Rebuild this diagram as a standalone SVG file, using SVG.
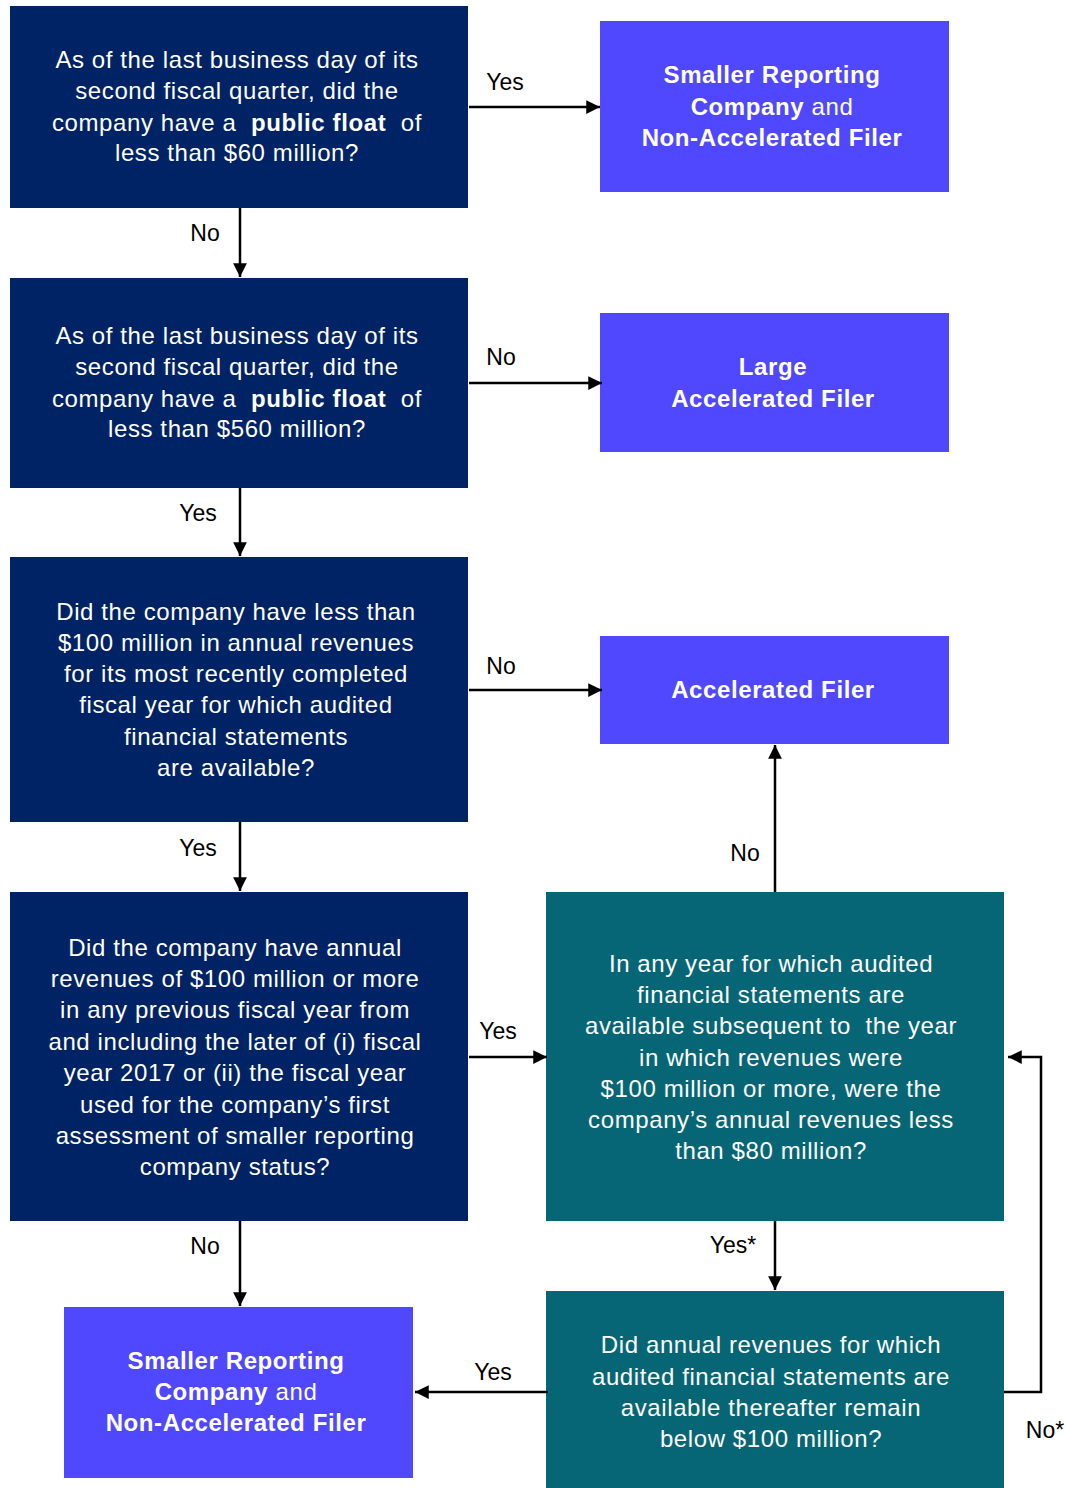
<svg xmlns="http://www.w3.org/2000/svg" width="1065" height="1488" viewBox="0 0 1065 1488">
<style>
  .navy { fill: #002366; }
  .purple { fill: #5048FF; }
  .teal { fill: #076676; }
  .t { font-family: "Liberation Sans", Arial, sans-serif; font-size: 24px; fill: #ffffff; text-anchor: middle; letter-spacing: 0.6px; }
  .b { font-weight: bold; letter-spacing: 0.6px; }
  .lbl { font-family: "Liberation Sans", Arial, sans-serif; font-size: 23px; fill: #000000; text-anchor: middle; }
  .edge { stroke: #000000; stroke-width: 2.5; fill: none; marker-end: url(#ah); }
</style>
<defs>
  <marker id="ah" viewBox="0 0 10 10" refX="10" refY="5" markerWidth="5.5" markerHeight="5.5" markerUnits="strokeWidth" orient="auto">
    <path d="M0,0 L10,5 L0,10 z" fill="#000000"/>
  </marker>
</defs>
<rect width="1065" height="1488" fill="#ffffff"/>

<g id="q1">
  <rect class="navy" x="10" y="6" width="458" height="202"/>
  <text class="t" x="237" y="68">As of the last business day of its</text>
  <text class="t" x="237" y="99">second fiscal quarter, did the</text>
  <text class="t" x="237" y="131">company have a&#160; <tspan font-weight="bold">public float</tspan>&#160; of</text>
  <text class="t" x="237" y="161">less than $60 million?</text>
</g>
<g id="r1">
  <rect class="purple" x="600" y="21" width="349" height="171"/>
  <text class="t b" x="772" y="83">Smaller Reporting</text>
  <text class="t" x="772" y="115"><tspan class="b">Company</tspan> and</text>
  <text class="t b" x="772" y="146">Non-Accelerated Filer</text>
</g>
<g id="q2">
  <rect class="navy" x="10" y="278" width="458" height="210"/>
  <text class="t" x="237" y="344">As of the last business day of its</text>
  <text class="t" x="237" y="375">second fiscal quarter, did the</text>
  <text class="t" x="237" y="407">company have a&#160; <tspan font-weight="bold">public float</tspan>&#160; of</text>
  <text class="t" x="237" y="437">less than $560 million?</text>
</g>
<g id="r2">
  <rect class="purple" x="600" y="313" width="349" height="139"/>
  <text class="t b" x="773" y="375">Large</text>
  <text class="t b" x="773" y="407">Accelerated Filer</text>
</g>
<g id="q3">
  <rect class="navy" x="10" y="557" width="458" height="265"/>
  <text class="t" x="236" y="620">Did the company have less than</text>
  <text class="t" x="236" y="651">$100 million in annual revenues</text>
  <text class="t" x="236" y="682">for its most recently completed</text>
  <text class="t" x="236" y="713">fiscal year for which audited</text>
  <text class="t" x="236" y="745">financial statements</text>
  <text class="t" x="236" y="776">are available?</text>
</g>
<g id="r3">
  <rect class="purple" x="600" y="636" width="349" height="108"/>
  <text class="t b" x="773" y="698">Accelerated Filer</text>
</g>
<g id="q4">
  <rect class="navy" x="10" y="892" width="458" height="329"/>
  <text class="t" x="235" y="956">Did the company have annual</text>
  <text class="t" x="235" y="987">revenues of $100 million or more</text>
  <text class="t" x="235" y="1018">in any previous fiscal year from</text>
  <text class="t" x="235" y="1050">and including the later of (i) fiscal</text>
  <text class="t" x="235" y="1081">year 2017 or (ii) the fiscal year</text>
  <text class="t" x="235" y="1113">used for the company’s first</text>
  <text class="t" x="235" y="1144">assessment of smaller reporting</text>
  <text class="t" x="235" y="1175">company status?</text>
</g>
<g id="q5">
  <rect class="teal" x="546" y="892" width="458" height="329"/>
  <text class="t" x="771" y="972">In any year for which audited</text>
  <text class="t" x="771" y="1003">financial statements are</text>
  <text class="t" x="771" y="1034">available subsequent to&#160; the year</text>
  <text class="t" x="771" y="1066">in which revenues were</text>
  <text class="t" x="771" y="1097">$100 million or more, were the</text>
  <text class="t" x="771" y="1128">company’s annual revenues less</text>
  <text class="t" x="771" y="1159">than $80 million?</text>
</g>
<g id="r4">
  <rect class="purple" x="64" y="1307" width="349" height="171"/>
  <text class="t b" x="236" y="1369">Smaller Reporting</text>
  <text class="t" x="236" y="1400"><tspan class="b">Company</tspan> and</text>
  <text class="t b" x="236" y="1431">Non-Accelerated Filer</text>
</g>
<g id="q6">
  <rect class="teal" x="546" y="1291" width="458" height="197"/>
  <text class="t" x="771" y="1353">Did annual revenues for which</text>
  <text class="t" x="771" y="1385">audited financial statements are</text>
  <text class="t" x="771" y="1416">available thereafter remain</text>
  <text class="t" x="771" y="1447">below $100 million?</text>
</g>

<g id="connectors">
  <path class="edge" d="M469,107 H600"/>
  <path class="edge" d="M240,208 V277"/>
  <path class="edge" d="M469,383 H602"/>
  <path class="edge" d="M240,488 V556"/>
  <path class="edge" d="M469,690 H602"/>
  <path class="edge" d="M240,822 V891"/>
  <path class="edge" d="M469,1057 H547"/>
  <path class="edge" d="M775,892 V745"/>
  <path class="edge" d="M240,1221 V1306"/>
  <path class="edge" d="M775,1221 V1290"/>
  <path class="edge" d="M548,1392 H415"/>
  <path class="edge" d="M1004,1392 H1041 V1057 H1008"/>
  <text class="lbl" x="505" y="90">Yes</text>
  <text class="lbl" x="205" y="241">No</text>
  <text class="lbl" x="501" y="365">No</text>
  <text class="lbl" x="198" y="521">Yes</text>
  <text class="lbl" x="501" y="674">No</text>
  <text class="lbl" x="198" y="856">Yes</text>
  <text class="lbl" x="498" y="1039">Yes</text>
  <text class="lbl" x="745" y="861">No</text>
  <text class="lbl" x="205" y="1254">No</text>
  <text class="lbl" x="733" y="1253">Yes*</text>
  <text class="lbl" x="493" y="1380">Yes</text>
  <text class="lbl" x="1045" y="1438">No*</text>
</g>
</svg>
